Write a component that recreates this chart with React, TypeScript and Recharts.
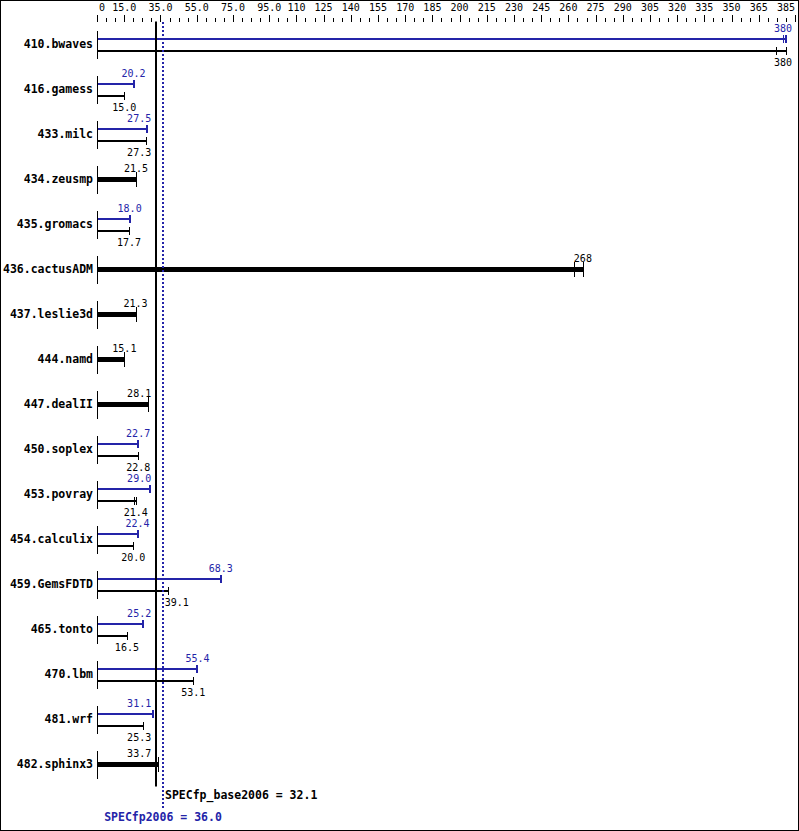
import React from 'react';
import { ComposedChart, Bar, XAxis, YAxis, ReferenceLine } from 'recharts';

const BENCHMARKS = [
  '410.bwaves', '416.gamess', '433.milc', '434.zeusmp', '435.gromacs', '436.cactusADM',
  '437.leslie3d', '444.namd', '447.dealII', '450.soplex', '453.povray', '454.calculix',
  '459.GemsFDTD', '465.tonto', '470.lbm', '481.wrf', '482.sphinx3',
];
const BASE_RATIOS = [380, 15.0, 27.3, 21.5, 17.7, 268, 21.3, 15.1, 28.1, 22.8, 21.4, 20.0, 39.1, 16.5, 53.1, 25.3, 33.7];
const PEAK_RATIOS: (number | null)[] = [380, 20.2, 27.5, null, 18.0, null, null, null, null, 22.7, 29.0, 22.4, 68.3, 25.2, 55.4, 31.1, null];
const BASE_OTHER_RUNS: (number | null)[] = [374.7, null, null, null, null, 263.1, null, null, null, null, 20.5, null, null, null, null, null, null];
const PEAK_OTHER_RUNS: (number | null)[] = [378.5, null, null, null, null, null, null, null, null, null, null, null, null, null, null, null, null];
const AXIS_LABELS = [0, 15, 35, 55, 75, 95, 110, 125, 140, 155, 170, 185, 200, 215, 230, 245, 260, 275, 290, 305, 320, 335, 350, 365, 385];
const AXIS_MAX = 385;
const AXIS_STEP = 5;
const AXIS_TICKS = Array.from({ length: AXIS_MAX / AXIS_STEP + 1 }, (_, i) => i * AXIS_STEP);
const SPECFP_BASE = 32.1;
const SPECFP_PEAK = 36.0;

const data = BENCHMARKS.map((name, i) => ({
  name,
  base: BASE_RATIOS[i],
  peak: PEAK_RATIOS[i],
  baseRun: BASE_OTHER_RUNS[i],
  peakRun: PEAK_OTHER_RUNS[i],
}));

const W = 799;
const H = 831;
const BLUE = '#2424A8';
const MONO = '"DejaVu Sans Mono", monospace';
const CHAR_W = 6.02;
const HALF = 6;

const fmt = (v: number) => (v >= 100 ? v.toFixed(0) : v.toFixed(1));
const px1 = (v: number) => Math.round(v) + 0.5;
const px2 = (v: number) => Math.round(v);

function labelCenter(end: number, text: string, xB: number, xP: number) {
  const w = text.length * CHAR_W;
  let c = end;
  if (c - w / 2 < xP + 2 && c + w / 2 > xB - 2) {
    c = end < xP ? xB - 4 - w / 2 : xP + 2.5 + w / 2;
  }
  if (c + w / 2 > 792) c = 792 - w / 2;
  return c;
}

const PeakShape = (p: any) => {
  const { x, y, width, height, payload } = p;
  const v = payload.peak;
  if (v == null || !width) return null;
  const k = width / v;
  const xOf = (t: number) => x + t * k;
  const cy = Math.round(y + height / 2);
  const end = x + width;
  const text = fmt(v);
  const lc = labelCenter(end, text, xOf(SPECFP_BASE), xOf(SPECFP_PEAK));
  return (
    <g>
      <rect x={Math.round(x)} y={cy - 1} width={Math.round(end) - Math.round(x)} height={2} fill={BLUE} />
      <line x1={px2(end)} x2={px2(end)} y1={cy - 4} y2={cy + 4} stroke={BLUE} strokeWidth={2} />
      {payload.peakRun != null && (
        <line x1={px1(xOf(payload.peakRun))} x2={px1(xOf(payload.peakRun))} y1={cy - 4} y2={cy + 4} stroke={BLUE} strokeWidth={1} />
      )}
      <text x={lc} y={cy - 7} textAnchor="middle" fontFamily={MONO} fontSize={10} fill={BLUE}>{text}</text>
    </g>
  );
};

const BaseShape = (p: any) => {
  const { x, y, width, height, payload } = p;
  const v = payload.base;
  if (v == null || !width) return null;
  const k = width / v;
  const xOf = (t: number) => x + t * k;
  const rowC = Math.round(y + height / 2 - HALF);
  const hasPeak = payload.peak != null;
  const end = x + width;
  const text = fmt(v);
  const lc = labelCenter(end, text, xOf(SPECFP_BASE), xOf(SPECFP_PEAK));
  const x0 = Math.round(x);
  if (hasPeak) {
    const cy = Math.round(y + height / 2);
    return (
      <g>
        <line x1={px1(x)} x2={px1(x)} y1={rowC - 14} y2={rowC + 14} stroke="#000" strokeWidth={1} />
        <rect x={x0} y={cy - 1} width={Math.round(end) - x0} height={2} fill="#000" />
        <line x1={px1(end)} x2={px1(end)} y1={cy - 4} y2={cy + 4} stroke="#000" strokeWidth={1} />
        {payload.baseRun != null && (
          <line x1={px1(xOf(payload.baseRun))} x2={px1(xOf(payload.baseRun))} y1={cy - 4} y2={cy + 4} stroke="#000" strokeWidth={1} />
        )}
        <text x={lc} y={cy + 14.5} textAnchor="middle" fontFamily={MONO} fontSize={10} fill="#000">{text}</text>
      </g>
    );
  }
  const cy = rowC - 1;
  return (
    <g>
      <line x1={px1(x)} x2={px1(x)} y1={rowC - 14} y2={rowC + 14} stroke="#000" strokeWidth={1} />
      <rect x={x0} y={cy - 2} width={Math.round(end) - x0} height={5} fill="#000" />
      <line x1={px1(end)} x2={px1(end)} y1={cy - 7} y2={cy + 8} stroke="#000" strokeWidth={1} />
      {payload.baseRun != null && (
        <line x1={px1(xOf(payload.baseRun))} x2={px1(xOf(payload.baseRun))} y1={cy - 7} y2={cy + 8} stroke="#000" strokeWidth={1} />
      )}
      <text x={lc} y={cy - 7} textAnchor="middle" fontFamily={MONO} fontSize={10} fill="#000">{text}</text>
    </g>
  );
};

const XTick = (p: any) => {
  const { x, payload } = p;
  const v = payload.value;
  const major = AXIS_LABELS.includes(v);
  const text = String(v % 1 === 0 && v < 100 && v !== 0 ? v.toFixed(1) : v);
  const w = text.length * CHAR_W;
  let c = x;
  if (c - w / 2 < 99) c = 99 + w / 2;
  if (c + w / 2 > 795) c = 795 - w / 2;
  return (
    <g>
      <line x1={px1(x)} x2={px1(x)} y1={major ? 15 : 18} y2={22} stroke="#000" strokeWidth={1} />
      {major && (
        <text x={c} y={10.5} textAnchor="middle" fontFamily={MONO} fontSize={10} fill="#000">{text}</text>
      )}
    </g>
  );
};

const YTick = (p: any) => {
  const { x, y, payload } = p;
  return (
    <text x={x} y={y + 3.5} textAnchor="end" fontFamily={MONO} fontWeight="bold" fontSize={11.5} fill="#000">
      {payload.value}
    </text>
  );
};

const BaseLineShape = (p: any) => {
  const { x1, y1, y2 } = p;
  const top = Math.min(y1, y2);
  const bottom = Math.max(y1, y2);
  return <line x1={px2(x1) + 1} x2={px2(x1) + 1} y1={top} y2={bottom} stroke="#000" strokeWidth={2} />;
};

const PeakLineShape = (p: any) => {
  const { x1, y1, y2 } = p;
  const top = Math.min(y1, y2);
  const bottom = Math.max(y1, y2);
  const xx = px2(x1) + 1;
  return (
    <g>
      <line x1={xx} x2={xx} y1={Math.round(top)} y2={Math.round(bottom) + 22} stroke={BLUE} strokeWidth={2} strokeDasharray="2 2" />
      <text x={xx + 2} y={bottom + 12.5} textAnchor="start" fontFamily={MONO} fontWeight="bold" fontSize={11.5} fill="#000">
        {`SPECfp_base2006 = ${SPECFP_BASE.toFixed(1)}`}
      </text>
      <text x={xx} y={bottom + 34.5} textAnchor="middle" fontFamily={MONO} fontWeight="bold" fontSize={11.5} fill={BLUE}>
        {`SPECfp2006 = ${SPECFP_PEAK.toFixed(1)}`}
      </text>
    </g>
  );
};

export default function App() {
  return (
    <div style={{ position: 'absolute', left: 0, top: 0, width: W, height: H, background: '#fff' }}>
      <ComposedChart
        width={W}
        height={H}
        data={data}
        layout="vertical"
        margin={{ top: 0, right: 4, bottom: 44.5, left: 0 }}
        barGap={0}
      >
        <XAxis
          type="number"
          orientation="top"
          domain={[0, AXIS_MAX]}
          ticks={AXIS_TICKS}
          interval={0}
          height={21.5}
          axisLine={false}
          tickLine={false}
          tick={<XTick />}
        />
        <YAxis
          type="category"
          dataKey="name"
          width={97}
          axisLine={false}
          tickLine={false}
          tickSize={0}
          tickMargin={4}
          interval={0}
          tick={<YTick />}
        />
        <Bar dataKey="peak" barSize={12} isAnimationActive={false} shape={<PeakShape />} />
        <Bar dataKey="base" barSize={12} isAnimationActive={false} shape={<BaseShape />} />
        <ReferenceLine x={SPECFP_BASE} shape={(p: any) => <BaseLineShape {...p} />} />
        <ReferenceLine x={SPECFP_PEAK} shape={(p: any) => <PeakLineShape {...p} />} />
      </ComposedChart>
      <div
        style={{
          position: 'absolute', left: 0, top: 0, width: W, height: H,
          border: '1px solid #000', boxSizing: 'border-box', pointerEvents: 'none',
        }}
      />
    </div>
  );
}
